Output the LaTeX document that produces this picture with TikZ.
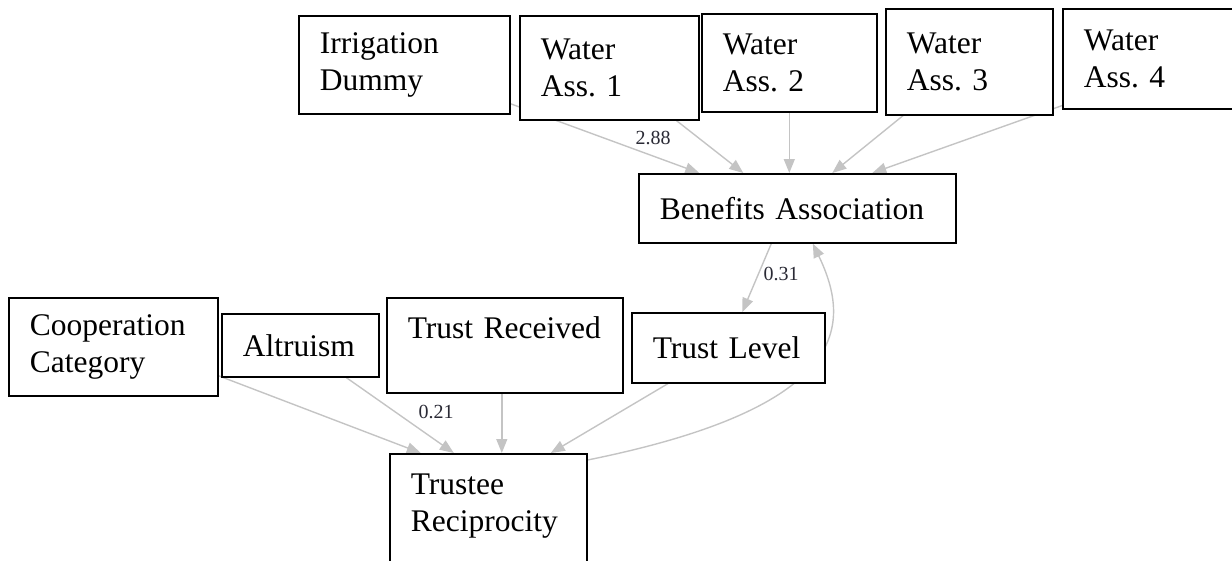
\documentclass[tikz,border=0pt]{standalone}
\usepackage{fontspec}
\setmainfont{Liberation Serif}
\usetikzlibrary{arrows.meta,calc}
\pgfdeclarelayer{edges}
\pgfsetlayers{edges,main}
\definecolor{edgegray}{HTML}{C4C4C4}
\definecolor{coefink}{HTML}{2A2A35}
\frenchspacing

\begin{document}
\begin{tikzpicture}[x=1pt,y=-1pt,
  var/.style={draw=black, line width=1.6pt, fill=white, rectangle,
    anchor=north west, inner xsep=21pt, inner ysep=0pt, align=left,
    font=\fontsize{31.5}{37}\selectfont},
  link/.style={draw=edgegray, line width=1.4pt,
    -{Triangle[length=14pt,width=11pt,fill=edgegray]}},
  coef/.style={font=\fontsize{20}{22}\selectfont, text=coefink, inner sep=0pt}]

\useasboundingbox (0,0) rectangle (1232,560);

% observed indicators
\node[var, text width=169pt, minimum height=98pt]  (irr)  at (298,15)  {Irrigation\\Dummy};
\node[var, text width=137pt, minimum height=104pt] (wa1)  at (519,15)  {Water\\Ass. 1};
\node[var, text width=133pt, minimum height=98pt]  (wa2)  at (701,13)  {Water\\Ass. 2};
\node[var, text width=125pt, minimum height=106pt] (wa3)  at (885,8)   {Water\\Ass. 3};
\node[var, text width=131pt, minimum height=100pt] (wa4)  at (1062,8)  {Water\\Ass. 4};

\node[var, text width=275pt, minimum height=69pt]  (ben)  at (638,173) {Benefits Association};
\node[var, text width=151pt, minimum height=70pt]  (tl)   at (631,312) {Trust Level};

\node[var, text width=167pt, minimum height=98pt]  (coop) at (8,297)   {Cooperation\\Category};
\node[var, text width=115pt, minimum height=63pt]  (alt)  at (221,313) {Altruism};
\node[var, text width=194pt, minimum height=95pt, text depth=36pt] (trec) at (386,297) {Trust Received};
\node[var, text width=155pt, minimum height=112pt, text depth=52pt] (tr) at (389,453) {Trustee\\Reciprocity};

% regression paths
\begin{pgfonlayer}{edges}
  \draw[link] (irr) -- ($(ben.north)+(-98,0)$);
  \draw[link] (wa1) -- ($(ben.north)+(-54,0)$);
  \draw[link] (wa2.south) -- (wa2.south |- ben.north);
  \draw[link] (wa3) -- ($(ben.north)+(35,0)$);
  \draw[link] ($(wa4.south west)+(0,-4)$) -- ($(ben.north)+(75,0)$);

  \draw[link] ($(ben.south)+(-26,0)$) -- ($(tl.north)+(14,0)$);

  \draw[link] ($(coop.east)+(0,29)$) -- ($(tr.north)+(-67.5,0)$);
  \draw[link] (alt) -- ($(tr.north)+(-34.5,0)$);
  \draw[link] ($(trec.south)+(-3,0)$) -- ($(tr.north)+(13.5,0)$);
  \draw[link] (tl) -- ($(tr.north)+(62.5,0)$);

  \draw[link] ($(tr.north east)+(0,7)$) .. controls (850,407) and (852,325) .. ($(ben.south)+(15.5,0)$);
\end{pgfonlayer}

% path coefficients
\node[coef] (c1) at (653,138) {2.88};
\node[coef] (c2) at (781,274) {0.31};
\node[coef] (c3) at (436,412) {0.21};
\end{tikzpicture}
\end{document}
